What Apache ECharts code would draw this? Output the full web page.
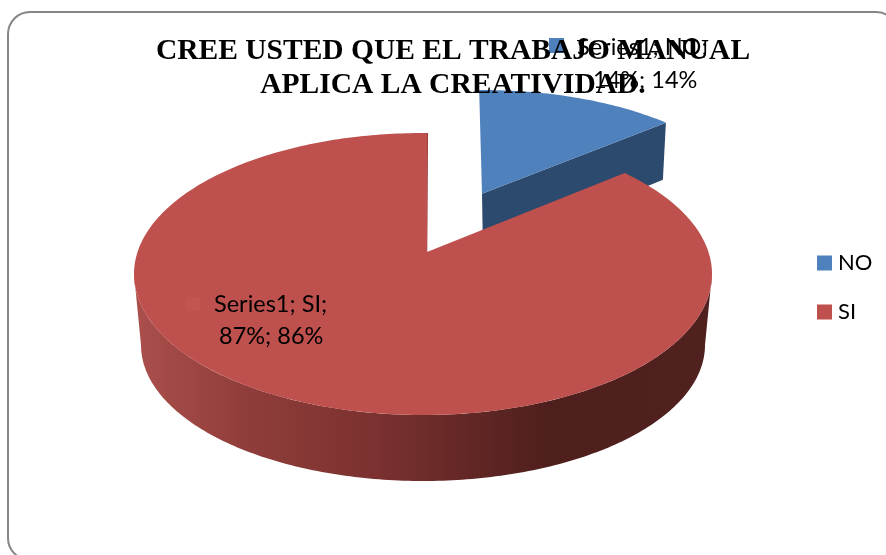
<!DOCTYPE html>
<html>
<head>
<meta charset="utf-8">
<style>html,body{margin:0;padding:0;background:#fff}#c{width:886px;height:555px}</style>
<script src="https://cdn.jsdelivr.net/npm/echarts@6/dist/echarts.min.js"></script>
</head>
<body>
<div id="c"></div>
<script>
const titleLines = ['CREE USTED QUE EL TRABAJO MANUAL', 'APLICA LA CREATIVIDAD.'];
const seriesName = 'Series1';
const categories = ['NO', 'SI'];
const values = [14, 87];
const colors = ['#4f81bd', '#be504d'];

const total = values.reduce((a, b) => a + b, 0);
const pct = values.map(v => Math.round(v / total * 100));
const share = values[0] / total * 360;
const TILT = 0.156;
const FONT = 'Lato, "Open Sans", sans-serif';
const rad = d => d * Math.PI / 180;

// Perspective projection of a disc: true angle clockwise from 12 o'clock -> screen point
function project(g, deg) {
  const x = Math.sin(rad(deg)), y = -Math.cos(rad(deg));
  const d = 1 - TILT * y;
  return [g.cx + g.rx * x * Math.sqrt(1 - TILT * TILT) / d, g.cy + g.ry * (y - TILT) / d];
}
const centre = g => [g.cx, g.cy - g.ry * TILT];
function arc(g, from, to) {
  const pts = [], n = Math.max(2, Math.ceil(Math.abs(to - from)));
  for (let i = 0; i <= n; i++) pts.push(project(g, from + (to - from) * i / n));
  return pts;
}
function lowerHalf(e, reverse) {
  const pts = [];
  for (let i = 0; i <= 180; i++) {
    const a = rad(reverse ? i : 180 - i);
    pts.push([e.cx + e.rx * Math.cos(a), e.cy + e.ry * Math.sin(a)]);
  }
  return pts;
}
const poly = (points, fill, extra) => ({ type: 'polygon', shape: { points }, style: Object.assign({ fill }, extra || {}) });
const wallGrad = { type: 'linear', x: 0, y: 0, x2: 1, y2: 0, colorStops: [
  { offset: 0, color: '#ab4f4c' }, { offset: 0.2, color: '#8f3d3a' }, { offset: 0.42, color: '#7a312f' },
  { offset: 0.72, color: '#4e1f1d' }, { offset: 1, color: '#50211f' } ] };

const blueTop = { cx: 482, cy: 213, rx: 271, ry: 123 };
const redTop = { cx: 423, cy: 274, rx: 289, ry: 141 };
const redBottom = { cx: 423, cy: 345, rx: 282, ry: 136 };

function drawNo(params, api) {
  const g = blueTop, a0 = -0.7, a1 = a0 + api.value(0) / total * 360;
  const apex = centre(g), end = project(g, a1);
  const apexB = [apex[0] + 1, apex[1] + 60], endB = [end[0] - 3, end[1] + 57];
  const top = [apex].concat(arc(g, a0, a1));
  return { type: 'group', children: [
    poly([apex, end, endB, apexB], '#2c4a6e'),
    poly(top, colors[0]),
    labelNo()
  ]};
}
function drawSi(params, api) {
  const g = redTop, a0 = 1 + share, a1 = 361;
  const c = centre(g);
  const apex = [c[0] + 4, c[1]];
  const top = [apex].concat(arc(g, a0, a1));
  const wall = lowerHalf(redTop, false).concat(lowerHalf(redBottom, true));
  return { type: 'group', children: [
    poly(wall, wallGrad),
    { type: 'polyline', shape: { points: [[apex[0] - 0.5, apex[1]], project(g, a1)] }, style: { stroke: '#8f3a38', lineWidth: 1.5, fill: null } },
    poly(top, colors[1]),
    labelSi()
  ]};
}
const txt = (text, x, y) => ({ type: 'text', style: { text, x, y, font: '23.5px ' + FONT, fill: '#000', textAlign: 'left', textVerticalAlign: 'middle' } });
function labelNo() {
  return { type: 'group', children: [
    { type: 'rect', shape: { x: 549, y: 38, width: 15, height: 15 }, style: { fill: colors[0] } },
    txt(seriesName + '; ' + categories[0] + ';', 577, 47),
    txt(pct[0] + '%; ' + pct[0] + '%', 593, 80)
  ]};
}
function labelSi() {
  return { type: 'group', children: [
    { type: 'rect', shape: { x: 186, y: 297, width: 14, height: 14 }, style: { fill: '#c25451' } },
    txt(seriesName + '; ' + categories[1] + ';', 214, 304),
    txt(values[1] + '%; ' + pct[1] + '%', 219, 336)
  ]};
}

const chart = echarts.init(document.getElementById('c'), null, { renderer: 'canvas' });
chart.setOption({
  animation: false,
  backgroundColor: '#ffffff',
  color: colors,
  title: {
    text: titleLines.join('\n'), left: 448, top: 29, textAlign: 'center', z: 20,
    textStyle: { fontFamily: '"Liberation Serif", serif', fontWeight: 'bold', fontSize: 29.5, lineHeight: 34, color: '#000' }
  },
  legend: {
    orient: 'vertical', left: 812, top: 247, itemWidth: 15, itemHeight: 15, itemGap: 27, itemStyle: { borderWidth: 0 },
    data: categories, icon: 'rect',
    textStyle: { fontFamily: FONT, fontSize: 22, lineHeight: 21, color: '#000', padding: [0, 0, 0, 1] }
  },
  graphic: [{
    type: 'rect', z: -1, silent: true,
    shape: { x: 8, y: 12, width: 890, height: 548, r: 22 },
    style: { fill: '#fff', stroke: '#868686', lineWidth: 2 }
  }],
  series: [
    { type: 'custom', name: categories[0], coordinateSystem: 'none', renderItem: drawNo, data: [values[0]], itemStyle: { color: colors[0] }, z: 2, silent: true },
    { type: 'custom', name: categories[1], coordinateSystem: 'none', renderItem: drawSi, data: [values[1]], itemStyle: { color: colors[1] }, z: 3, silent: true }
  ]
});
</script>
</body>
</html>
